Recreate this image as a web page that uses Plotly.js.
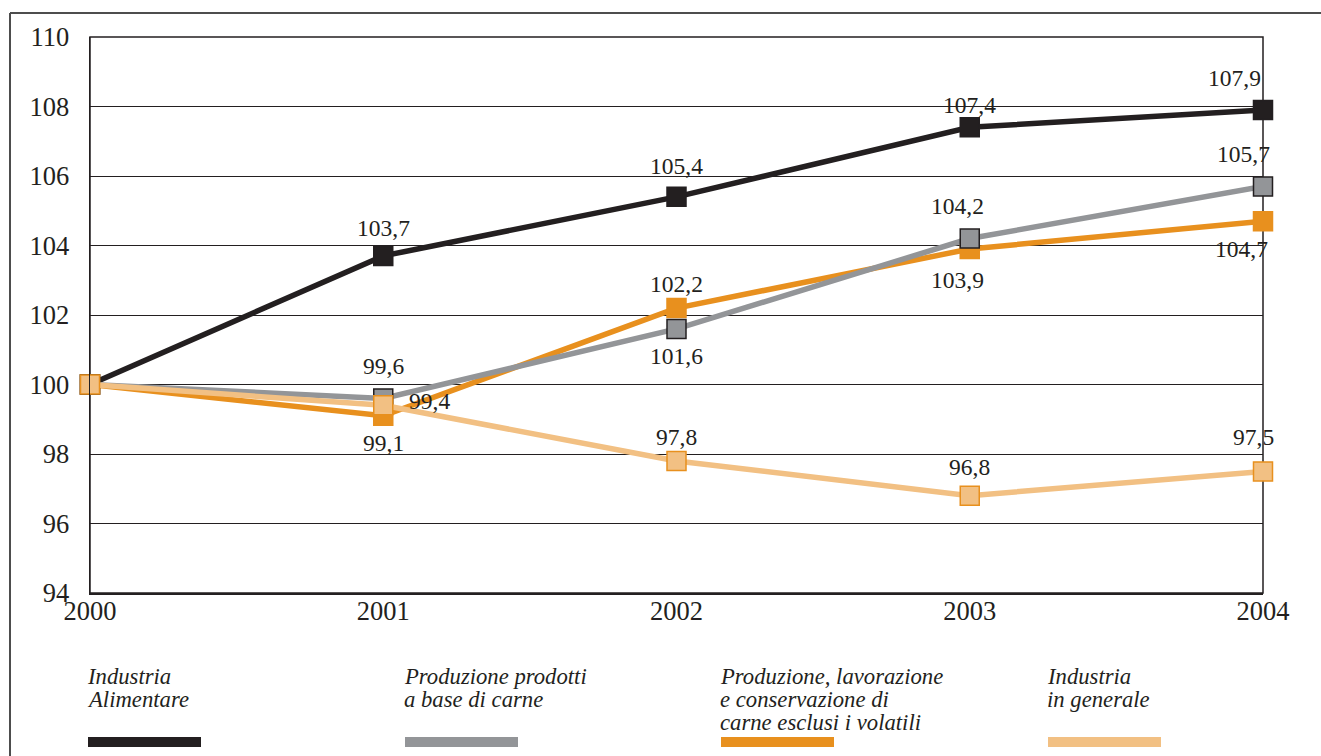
<!DOCTYPE html>
<html>
<head>
<meta charset="utf-8">
<script src="https://cdn.plot.ly/plotly-3.0.1.min.js"></script>
<style>html,body{margin:0;padding:0;background:#fff;}#chart{width:1321px;height:756px;}</style>
</head>
<body>
<div id="chart"></div>
<script>
const years = [2000, 2001, 2002, 2003, 2004];
const industriaAlimentare = [100, 103.7, 105.4, 107.4, 107.9];
const prodottiCarne = [100, 99.6, 101.6, 104.2, 105.7];
const carneEsclusiVolatili = [100, 99.1, 102.2, 103.9, 104.7];
const industriaGenerale = [100, 99.4, 97.8, 96.8, 97.5];
const seriesNames = [
  ["Industria", "Alimentare"],
  ["Produzione prodotti", "a base di carne"],
  ["Produzione, lavorazione", "e conservazione di", "carne esclusi i volatili"],
  ["Industria", "in generale"]
];
const yTicks = [94, 96, 98, 100, 102, 104, 106, 108, 110];

// styles
const W = 1321, H = 756;
const M = {l: 90, r: 58, t: 37, b: 163};
const PW = W - M.l - M.r, PH = H - M.t - M.b;
const px2x = p => (p - M.l) / PW;
const px2y = p => (H - M.b - p) / PH;
const FONT = "'Liberation Serif', 'DejaVu Serif', serif";
const TXT = "#231f20";

const styles = [
  {color: "#231f20", mcolor: "#231f20", mline: "#231f20"},
  {color: "#939598", mcolor: "#939598", mline: "#231f20"},
  {color: "#e8901e", mcolor: "#e8901e", mline: "#e8901e"},
  {color: "#f2c083", mcolor: "#f2c083", mline: "#e8901e"}
];
const allSeries = [industriaAlimentare, prodottiCarne, carneEsclusiVolatili, industriaGenerale];
const drawOrder = [0, 2, 1, 3];

const traces = drawOrder.map(i => ({
  x: years, y: allSeries[i], type: "scatter", mode: "lines+markers",
  name: seriesNames[i].join(" "),
  line: {color: styles[i].color, width: 5.5},
  marker: {symbol: "square", size: 19, color: styles[i].mcolor, line: {color: styles[i].mline, width: 1.5}},
  cliponaxis: false, hoverinfo: "skip"
}));

// label offsets [xshift, yshift] per series per point (null = no label)
const labelOffsets = [
  [null, [0, 28], [0, 31], [0, 22], [-29, 32]],
  [null, [0, 32], [0, -27], [-12, 33], [-20, 32]],
  [null, [0, -27], [0, 24], [-12, -31], [-22, -28]],
  [null, [46, 4], [0, 24], [0, 29], [-10, 34]]
];
const fmt = v => v.toFixed(1).replace(".", ",");
const annotations = [];
allSeries.forEach((s, i) => {
  s.forEach((v, j) => {
    const o = labelOffsets[i][j];
    if (!o) return;
    annotations.push({x: years[j], y: v, xref: "x", yref: "y", text: fmt(v), showarrow: false,
      xshift: o[0], yshift: o[1], font: {family: FONT, size: 23.5, color: TXT}});
  });
});

const legendX = [85, 402, 718, 1045];
const legendLineY = [676, 699, 722];
const shapes = [];
seriesNames.forEach((lines, i) => {
  lines.forEach((t, k) => {
    annotations.push({xref: "paper", yref: "paper", x: px2x(legendX[i]), y: px2y(legendLineY[k]), xanchor: "left", yanchor: "middle",
      align: "left", showarrow: false, text: "<i>" + t + "</i>", font: {family: FONT, size: 22.7, color: TXT}});
  });
  shapes.push({type: "rect", xref: "paper", yref: "paper", x0: px2x(legendX[i] + 3), x1: px2x(legendX[i] + 116),
    y0: px2y(747), y1: px2y(737), fillcolor: styles[i].color, line: {width: 0}});
});
// outer frame
shapes.push({type: "line", xref: "paper", yref: "paper", x0: px2x(10), x1: px2x(1325), y0: px2y(13), y1: px2y(13), line: {color: "#4d4d4d", width: 2}});
shapes.push({type: "line", xref: "paper", yref: "paper", x0: px2x(10), x1: px2x(10), y0: px2y(13), y1: px2y(760), line: {color: "#4d4d4d", width: 2}});
// plot box right & top
shapes.push({type: "rect", xref: "paper", yref: "paper", x0: 0, x1: 1, y0: 0, y1: 1, line: {color: "#231f20", width: 1.5}, layer: "below"});

const tickFont = {family: FONT, size: 26.5, color: TXT};
const layout = {
  width: W, height: H, margin: M, paper_bgcolor: "#fff", plot_bgcolor: "#fff",
  showlegend: false,
  xaxis: {range: [2000, 2004], tickvals: years, ticktext: years.map(String), showgrid: false, zeroline: false,
    showline: true, linecolor: "#231f20", linewidth: 1.5, ticks: "", ticklabelstandoff: -6, tickfont: tickFont},
  yaxis: {range: [94, 110], tickvals: yTicks, ticktext: yTicks.map(String), showgrid: true, gridcolor: "#231f20", gridwidth: 1,
    zeroline: false, showline: true, linecolor: "#231f20", linewidth: 1.5, ticks: "", ticklabelstandoff: 14, tickfont: tickFont},
  annotations: annotations, shapes: shapes
};
Plotly.newPlot("chart", traces, layout, {displayModeBar: false, staticPlot: true});
</script>
</body>
</html>
